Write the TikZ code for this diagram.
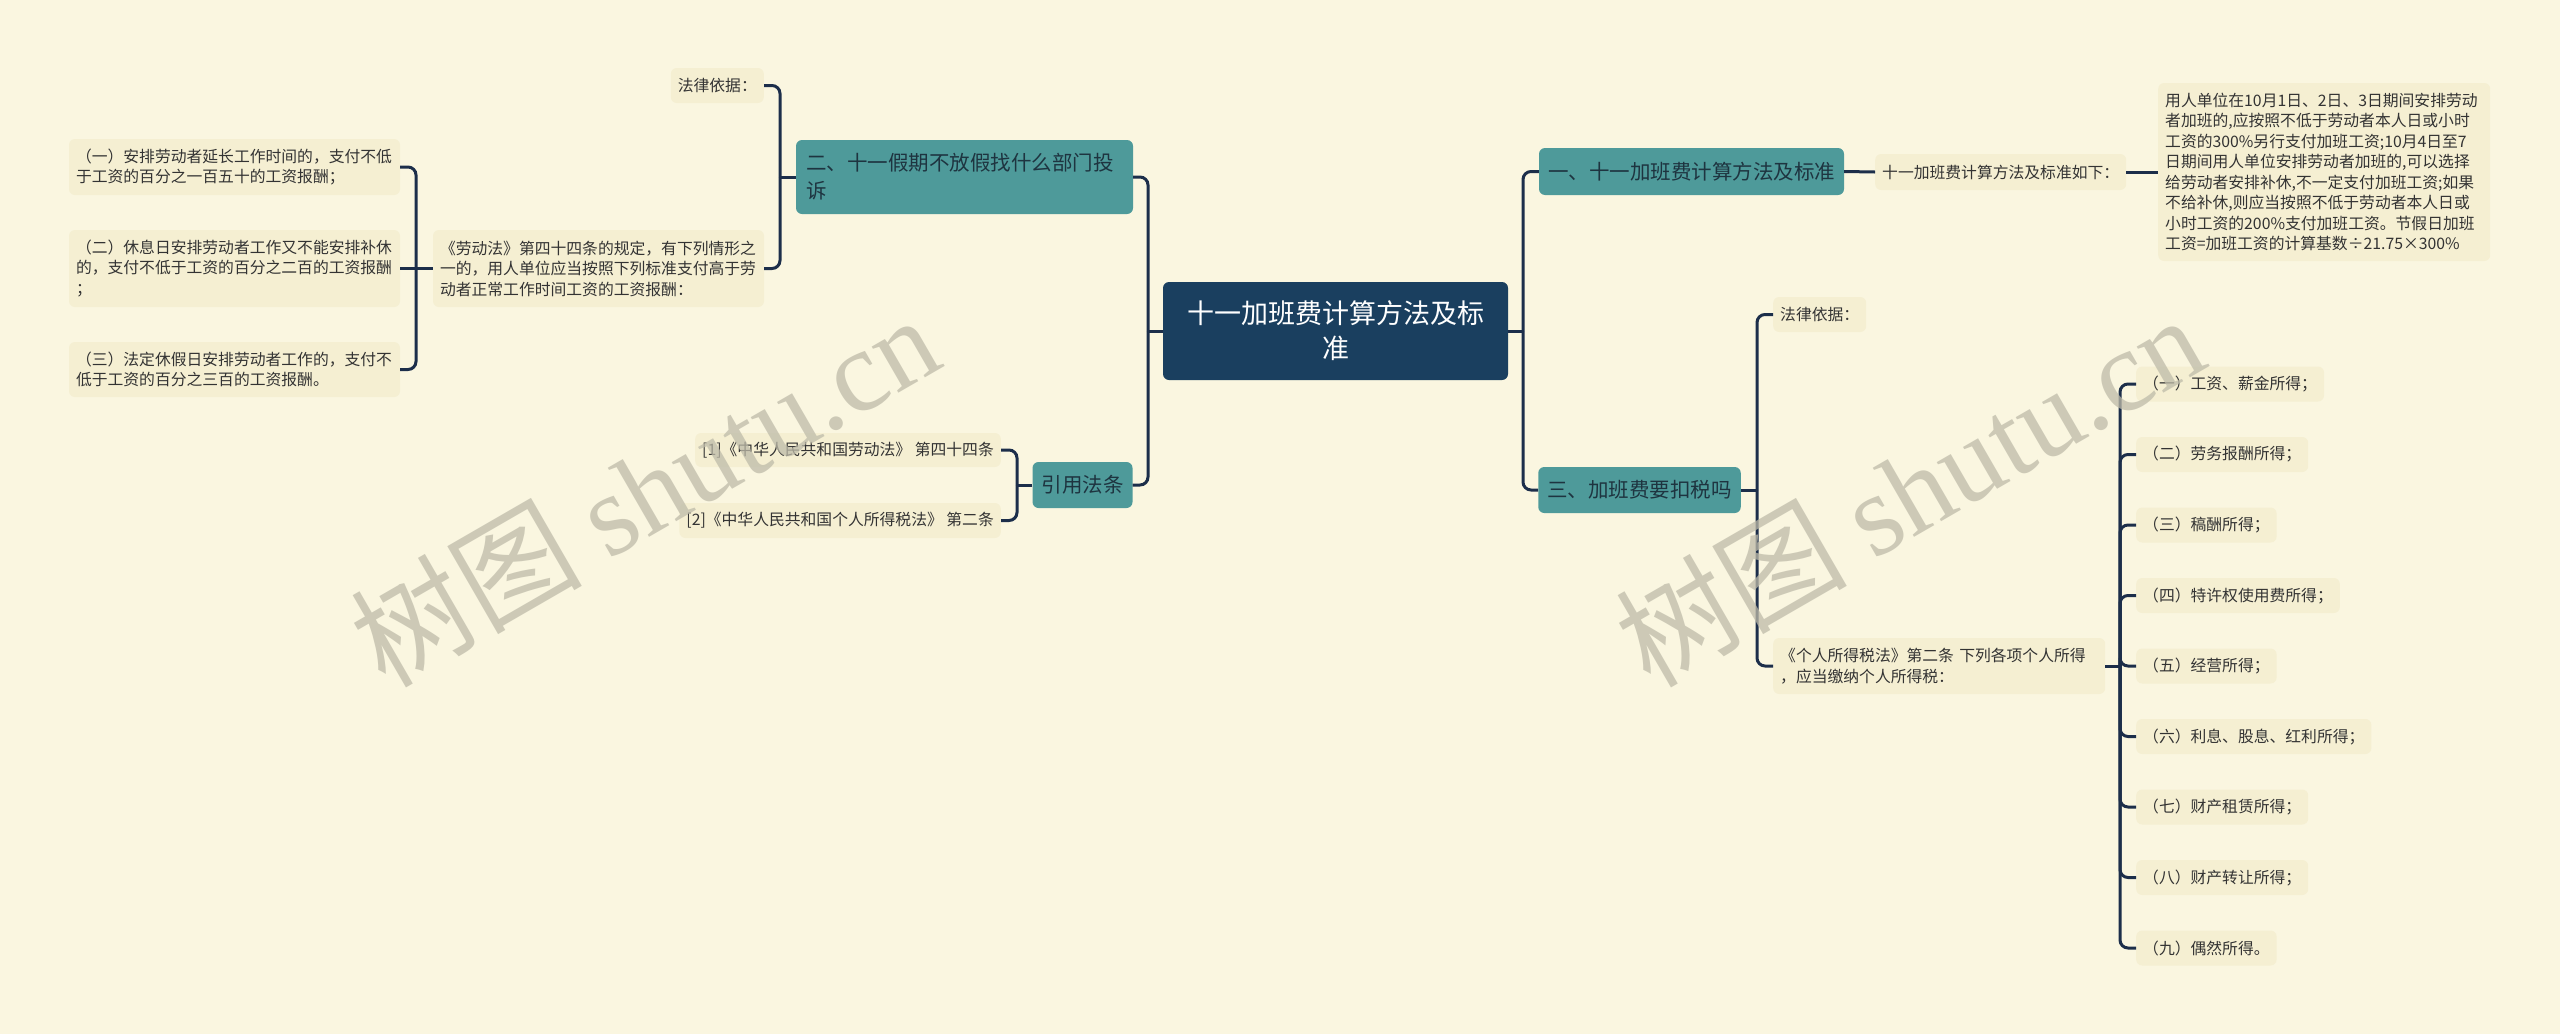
\documentclass[tikz,border=0pt]{standalone}
\usepackage{fontspec}
\setmainfont{Noto Sans CJK SC}
\newfontfamily\wmserif{Liberation Serif}
\definecolor{bgc}{RGB}{250,246,224}
\definecolor{leafc}{RGB}{245,239,210}
\definecolor{tealc}{RGB}{78,154,154}
\definecolor{tealtext}{RGB}{30,52,64}
\definecolor{navyc}{RGB}{26,63,95}
\definecolor{linec}{RGB}{28,46,74}
\definecolor{textc}{RGB}{51,51,51}
\definecolor{wmc}{RGB}{190,187,169}
\tikzset{
  centerbox/.style={fill=navyc, text=white, rounded corners=6, inner sep=0, minimum width=345, minimum height=98, text width=300, align=center, font=\fontsize{27}{35}\selectfont},
  tealbox/.style={fill=tealc, text=tealtext, rounded corners=6, inner xsep=9, inner ysep=0, minimum height=46, align=left, font=\fontsize{20.5}{28}\selectfont},
  leafbox/.style={fill=leafc, text=textc, rounded corners=6, inner xsep=7, inner ysep=0, minimum height=35, align=left, font=\fontsize{15.8}{20.5}\selectfont},
  conn/.style={draw=linec, line width=3, rounded corners=8},
  wm/.style={text=wmc, text opacity=0.75, rotate=30, inner sep=0, font=\fontsize{116}{116}\selectfont}
}
\begin{document}
\begin{tikzpicture}[x=1pt,y=-1pt]
\fill[bgc] (0,0) rectangle (2560,1034);
\useasboundingbox (0,0) rectangle (2560,1034);

% center
\node[centerbox] (c) at (1335.5,331) {十一加班费计算方法及标\\准};

% left side
\node[tealbox, text width=317, inner xsep=10, minimum height=74] (b2) at (964.5,177) {二、十一假期不放假找什么部门投\\诉};
\node[tealbox] (yy) at (1082.5,485) {引用法条};
\node[leafbox, anchor=east] (law1) at (764,85.5) {法律依据：};
\node[leafbox, text width=317, minimum height=77] (ld) at (598.5,268.5) {《劳动法》第四十四条的规定，有下列情形之\\一的，用人单位应当按照下列标准支付高于劳\\动者正常工作时间工资的工资报酬：};
\node[leafbox, text width=317, minimum height=56] (i1) at (234.5,167) {（一）安排劳动者延长工作时间的，支付不低\\于工资的百分之一百五十的工资报酬；};
\node[leafbox, text width=317, minimum height=77] (i2) at (234.5,268.5) {（二）休息日安排劳动者工作又不能安排补休\\的，支付不低于工资的百分之二百的工资报酬\\；};
\node[leafbox, text width=317, minimum height=55] (i3) at (234.5,369.5) {（三）法定休假日安排劳动者工作的，支付不\\低于工资的百分之三百的工资报酬。};
\node[leafbox, anchor=east, minimum height=34] (r1) at (1001,450) {[1]《中华人民共和国劳动法》 第四十四条};
\node[leafbox, anchor=east] (r2) at (1001,520.5) {[2]《中华人民共和国个人所得税法》 第二条};

% right side
\node[tealbox, minimum height=47] (b1) at (1691.5,171.5) {一、十一加班费计算方法及标准};
\node[tealbox] (b3) at (1639.5,490) {三、加班费要扣税吗};
\node[leafbox, anchor=west, minimum height=36] (rule) at (1875,172) {十一加班费计算方法及标准如下：};
\node[leafbox, anchor=west, text width=318, minimum height=178] (big) at (2158,172) {用人单位在10月1日、2日、3日期间安排劳动\\者加班的,应按照不低于劳动者本人日或小时\\工资的300\%另行支付加班工资;10月4日至7\\日期间用人单位安排劳动者加班的,可以选择\\给劳动者安排补休,不一定支付加班工资;如果\\不给补休,则应当按照不低于劳动者本人日或\\小时工资的200\%支付加班工资。节假日加班\\工资=加班工资的计算基数÷21.75×300\%};
\node[leafbox, anchor=west] (law3) at (1773,314.5) {法律依据：};
\node[leafbox, anchor=west, text width=318, minimum height=56] (tax) at (1773,666) {《个人所得税法》第二条 下列各项个人所得\\，应当缴纳个人所得税：};
\node[leafbox, anchor=west] (t1) at (2136,384) {（一）工资、薪金所得；};
\node[leafbox, anchor=west] (t2) at (2136,454.5) {（二）劳务报酬所得；};
\node[leafbox, anchor=west] (t3) at (2136,525) {（三）稿酬所得；};
\node[leafbox, anchor=west] (t4) at (2136,595.5) {（四）特许权使用费所得；};
\node[leafbox, anchor=west] (t5) at (2136,666) {（五）经营所得；};
\node[leafbox, anchor=west] (t6) at (2136,736.5) {（六）利息、股息、红利所得；};
\node[leafbox, anchor=west] (t7) at (2136,807) {（七）财产租赁所得；};
\node[leafbox, anchor=west] (t8) at (2136,877.5) {（八）财产转让所得；};
\node[leafbox, anchor=west] (t9) at (2136,948) {（九）偶然所得。};

% junction coordinates
\coordinate (jl) at (1148,331);
\coordinate (jr) at (1523,331);
\coordinate (jb2) at (780,177);
\coordinate (jld) at (416,268.5);
\coordinate (jyy) at (1017,485);
\coordinate (jb3) at (1757,490);
\coordinate (jtax) at (2120,666);

% connectors
\draw[conn] (c.west) -- (jl);
\draw[conn] (b2.east) -| (jl);
\draw[conn] (yy.east) -| (jl);
\draw[conn] (c.east) -- (jr);
\draw[conn] (b1.west) -| (jr);
\draw[conn] (b3.west) -| (jr);

\draw[conn] (b2.west) -- (jb2);
\draw[conn] (law1.east) -| (jb2);
\draw[conn] (ld.east) -| (jb2);

\draw[conn] (ld.west) -- (jld);
\draw[conn] (i1.east) -| (jld);
\draw[conn] (i2.east) -- (jld);
\draw[conn] (i3.east) -| (jld);

\draw[conn] (yy.west) -- (jyy);
\draw[conn] (r1.east) -| (jyy);
\draw[conn] (r2.east) -| (jyy);

\draw[conn] (b1.east) -- (rule.west);
\draw[conn] (rule.east) -- (big.west);

\draw[conn] (b3.east) -- (jb3);
\draw[conn] (law3.west) -| (jb3);
\draw[conn] (tax.west) -| (jb3);

\draw[conn] (tax.east) -- (jtax);
\foreach \t in {t1,t2,t3,t4,t5,t6,t7,t8,t9} {
  \draw[conn] (\t.west) -| (jtax);
}

% watermarks
\node[wm, anchor=base west] (wm1) at (385,690) {树图 {\wmserif shutu.cn}};
\node[wm, anchor=base west] (wm2) at (1650,690) {树图 {\wmserif shutu.cn}};
\end{tikzpicture}
\end{document}
